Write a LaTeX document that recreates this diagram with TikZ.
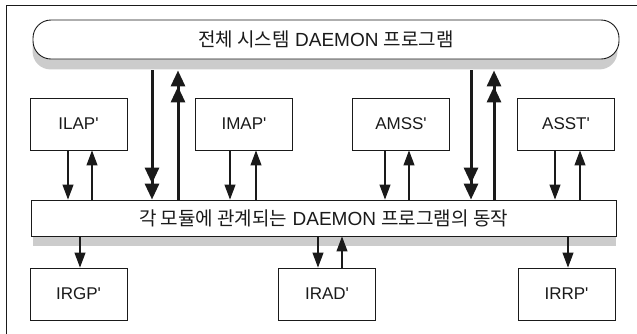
\documentclass[tikz,border=0pt]{standalone}
\usepackage{fontspec}
\setmainfont{Liberation Sans}
\newfontfamily\kr{Noto Sans CJK KR}
\usetikzlibrary{arrows.meta,backgrounds,calc}
\definecolor{shadowc}{HTML}{CCCCCC}
\definecolor{ink}{HTML}{1A1A1A}
\newcommand{\pr}{\textquotesingle}
\tikzset{
  modbox/.style={draw=ink, line width=0.9pt, fill=white, inner sep=0pt,
    minimum width=97pt, minimum height=52pt, font=\fontsize{17}{20}\selectfont, text=ink},
  barfont/.style={font=\fontsize{19}{22}\selectfont, text=ink},
  tarrow/.style={draw=ink, line width=1.1pt, -{Triangle[length=15pt,width=11pt]}},
  bigarrow/.style={draw=ink, line width=3pt,
    -{Triangle[length=16pt,width=14pt]Triangle[length=16pt,width=14pt]}},
}
\begin{document}
\begin{tikzpicture}[x=1pt,y=-1pt]
\useasboundingbox (0,0) rectangle (637,333);
\draw[ink, line width=0.9pt] (6,5) rectangle (650,345);

% top program bar
\node[draw=ink, line width=0.9pt, fill=white, rounded corners=18pt, inner sep=0pt,
  minimum width=586pt, minimum height=39pt, barfont]
  (top) at (326,39.5) {{\kr 전체 시스템} DAEMON {\kr 프로그램}};
\begin{scope}[on background layer]
\fill[shadowc, rounded corners=18pt] ($(top.north west)+(0,10)$) rectangle ($(top.south east)+(-2,10)$);
\end{scope}

% middle bar
\node[draw=ink, line width=0.9pt, fill=white, inner sep=0pt,
  minimum width=585pt, minimum height=36pt, barfont]
  (mid) at (323.5,218) {{\kr 각 모듈에 관계되는} DAEMON {\kr 프로그램의 동작}};
\begin{scope}[on background layer]
\fill[shadowc] ($(mid.north west)+(2,10)$) rectangle ($(mid.south east)+(0,10)$);
\end{scope}

% top modules
\node[modbox] (ilap) at (78.5,124) {ILAP\pr};
\node[modbox] (imap) at (244,124) {IMAP\pr};
\node[modbox] (amss) at (401,124) {AMSS\pr};
\node[modbox] (asst) at (566,124) {ASST\pr};

% bottom modules
\node[modbox] (irgp) at (78.5,294) {IRGP\pr};
\node[modbox] (irad) at (327,294) {IRAD\pr};
\node[modbox] (irrp) at (566.5,294) {IRRP\pr};

% thick arrows
\draw[bigarrow] (152,0 |- top.south) ++(0,11) -- (152,0 |- mid.north);
\draw[bigarrow] (178,0 |- mid.north) -- ($(178,0 |- top.south)+(0,11)$);
\draw[bigarrow] (471,0 |- top.south) ++(0,11) -- (471,0 |- mid.north);
\draw[bigarrow] (494,0 |- mid.north) -- ($(494,0 |- top.south)+(0,11)$);

% thin arrows top modules
\draw[tarrow] (68,0 |- ilap.south) -- (68,0 |- mid.north);
\draw[tarrow] (92,0 |- mid.north) -- (92,0 |- ilap.south);
\draw[tarrow] (230,0 |- imap.south) -- (230,0 |- mid.north);
\draw[tarrow] (256,0 |- mid.north) -- (256,0 |- imap.south);
\draw[tarrow] (385,0 |- amss.south) -- (385,0 |- mid.north);
\draw[tarrow] (409,0 |- mid.north) -- (409,0 |- amss.south);
\draw[tarrow] (555,0 |- asst.south) -- (555,0 |- mid.north);
\draw[tarrow] (580,0 |- mid.north) -- (580,0 |- asst.south);

% thin arrows bottom modules
\draw[tarrow] (80,0 |- mid.south) -- (80,0 |- irgp.north);
\draw[tarrow] (318,0 |- mid.south) -- (318,0 |- irad.north);
\draw[tarrow] (342,0 |- irad.north) -- (342,0 |- mid.south);
\draw[tarrow] (568,0 |- mid.south) -- (568,0 |- irrp.north);
\end{tikzpicture}
\end{document}
